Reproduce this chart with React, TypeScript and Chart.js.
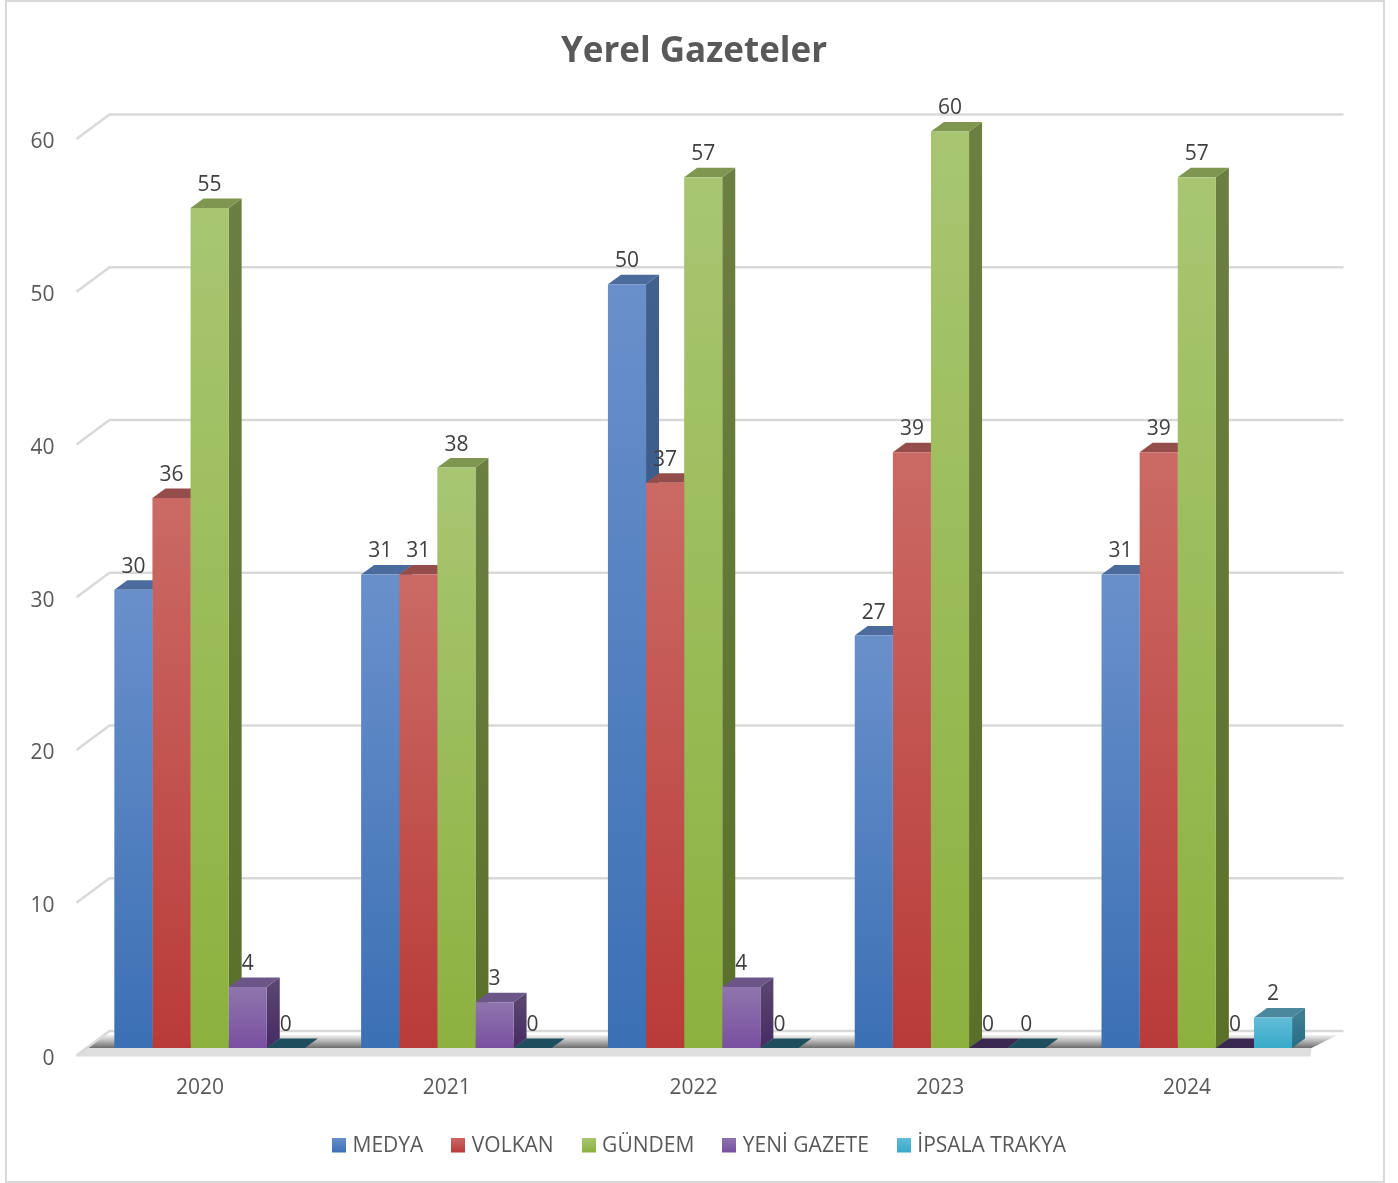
import React, { useEffect, useRef } from "react";
import { Chart, registerables } from "chart.js";

Chart.register(...registerables);

const categories = ["2020", "2021", "2022", "2023", "2024"];
const seriesNames = ["MEDYA", "VOLKAN", "GÜNDEM", "YENİ GAZETE", "İPSALA TRAKYA"];
const medya = [30, 31, 50, 27, 31];
const volkan = [36, 31, 37, 39, 39];
const gundem = [55, 38, 57, 60, 57];
const yeniGazete = [4, 3, 4, 0, 0];
const ipsalaTrakya = [0, 0, 0, 0, 2];
const seriesValues = [medya, volkan, gundem, yeniGazete, ipsalaTrakya];

const frontLight = ["#6A90CB", "#CB6A65", "#A8C672", "#8F75AE", "#62BDD8"];
const frontDark = ["#3B70B4", "#B93B38", "#8DB13F", "#7950A0", "#38A9C9"];
const sideLight = ["#41608C", "#8A4644", "#6C7F42", "#58446F", "#3C7D92"];
const sideDark = ["#2E5488", "#7F2A28", "#5A7029", "#452B63", "#246C83"];
const topFace = ["#4A6B9C", "#954D4B", "#7E9650", "#6C5587", "#4A889E"];
const zeroTop = ["#264466", "#5C2322", "#47591F", "#3A2850", "#1E4E5E"];

const FONT = "'Open Sans'";
const BAR_DX = 9.7;
const BAR_DY = -11;
const DEPTH_X = 13;
const DEPTH_Y = 9.5;
const WALL_DX = 33;
const WALL_FRONT = -3.5;
const WALL_BACK = -28;

function swatch(i: number): HTMLCanvasElement {
  const c = document.createElement("canvas");
  c.width = 14;
  c.height = 18;
  const g = c.getContext("2d")!;
  const gr = g.createLinearGradient(0, 0, 0, 15);
  gr.addColorStop(0, frontLight[i]);
  gr.addColorStop(1, frontDark[i]);
  g.fillStyle = gr;
  g.fillRect(0, 0, 14, 15);
  return c;
}

function poly(ctx: CanvasRenderingContext2D, pts: number[][], fill: any) {
  ctx.beginPath();
  pts.forEach((p, i) => (i ? ctx.lineTo(p[0], p[1]) : ctx.moveTo(p[0], p[1])));
  ctx.closePath();
  ctx.fillStyle = fill;
  ctx.fill();
}

const scene = {
  id: "scene3d",
  beforeDraw(chart: any) {
    const ctx = chart.ctx;
    ctx.save();
    ctx.fillStyle = "#ffffff";
    ctx.fillRect(0, 0, chart.width, chart.height);
    ctx.strokeStyle = "#d9d9d9";
    ctx.lineWidth = 2;
    ctx.strokeRect(6, 1, 1378, 1181);
    ctx.restore();
    if (chart.titleBlock) {
      chart.titleBlock.left = 0;
      chart.titleBlock.right = 1388;
    }
    if (chart.legend) {
      chart.legend.left = 2;
      chart.legend.right = 1400;
    }
  },
  beforeDatasetsDraw(chart: any) {
    const ctx = chart.ctx;
    const { left, right } = chart.chartArea;
    const yS = chart.scales.y;
    const y0 = yS.getPixelForValue(0);
    ctx.save();
    // floor
    const backY = y0 + WALL_BACK;
    const frontY = y0 + BAR_DY;
    const shadeTop = backY + 4;
    const shade = ctx.createLinearGradient(0, shadeTop, 0, frontY);
    shade.addColorStop(0, "#f4f4f4");
    shade.addColorStop(0.45, "#b8b8b8");
    shade.addColorStop(1, "#6c6c6c");
    const slope = WALL_DX / (WALL_FRONT - WALL_BACK);
    poly(
      ctx,
      [
        [left + WALL_DX - slope * 4, shadeTop],
        [right + WALL_DX - 6, shadeTop],
        [right + 1, frontY],
        [left + WALL_DX - slope * (frontY - backY), frontY],
      ],
      shade
    );
    poly(
      ctx,
      [
        [left + WALL_DX - slope * (frontY - backY), frontY],
        [right + 1, frontY],
        [right, y0 + WALL_FRONT + 1],
        [left - 1, y0 + WALL_FRONT + 1],
      ],
      "#dedede"
    );
    // walls
    ctx.strokeStyle = "#d9d9d9";
    ctx.lineWidth = 2.5;
    yS.ticks.forEach((t: any) => {
      const y = yS.getPixelForValue(t.value);
      ctx.beginPath();
      ctx.moveTo(left, y + WALL_FRONT);
      ctx.lineTo(left + WALL_DX, y + WALL_BACK);
      ctx.lineTo(right + WALL_DX, y + WALL_BACK);
      ctx.stroke();
    });
    // sides and tops of the bars
    ctx.translate(BAR_DX, BAR_DY);
    categories.forEach((_, c) => {
      seriesValues.forEach((vals, s) => {
        const b = chart.getDatasetMeta(s).data[c];
        const l = b.x - b.width / 2;
        const r = b.x + b.width / 2;
        const top = b.y;
        const base = b.base;
        if (vals[c] > 0) {
          const g = ctx.createLinearGradient(0, top, 0, base);
          g.addColorStop(0, sideLight[s]);
          g.addColorStop(1, sideDark[s]);
          poly(
            ctx,
            [
              [r, top],
              [r + DEPTH_X, top - DEPTH_Y],
              [r + DEPTH_X, base - DEPTH_Y],
              [r, base],
            ],
            g
          );
        }
        poly(
          ctx,
          [
            [l, top],
            [l + DEPTH_X, top - DEPTH_Y],
            [r + DEPTH_X, top - DEPTH_Y],
            [r, top],
          ],
          vals[c] > 0 ? topFace[s] : zeroTop[s]
        );
      });
    });
    ctx.restore();
    ctx.save();
    ctx.translate(BAR_DX, BAR_DY);
  },
  afterDatasetsDraw(chart: any) {
    const ctx = chart.ctx;
    ctx.restore();
    ctx.save();
    ctx.font = `21px ${FONT}`;
    ctx.fillStyle = "#404040";
    ctx.textAlign = "center";
    ctx.textBaseline = "middle";
    seriesValues.forEach((vals, s) => {
      const meta = chart.getDatasetMeta(s);
      vals.forEach((v, c) => {
        const b = meta.data[c];
        ctx.fillText(String(v), b.x + BAR_DX, b.y + BAR_DY - 23);
      });
    });
    ctx.restore();
  },
};

export default function App() {
  const ref = useRef<HTMLCanvasElement>(null);
  useEffect(() => {
    document.body.style.margin = "0";
    document.body.style.overflow = "hidden";
    const chart = new Chart(ref.current!, {
      type: "bar",
      data: {
        labels: categories,
        datasets: seriesNames.map((name, s) => ({
          label: name,
          data: seriesValues[s],
          clip: false,
          borderWidth: 0,
          pointStyle: swatch(s),
          backgroundColor: (c: any) => {
            const yS = c.chart.scales.y;
            const v = c.parsed ? c.parsed.y : undefined;
            const p0 = yS && v !== undefined ? yS.getPixelForValue(v) : NaN;
            const p1 = yS ? yS.getPixelForValue(0) : NaN;
            if (!Number.isFinite(p0) || !Number.isFinite(p1)) return frontDark[s];
            const g = c.chart.ctx.createLinearGradient(0, p0, 0, p1 + 0.01);
            g.addColorStop(0, frontLight[s]);
            g.addColorStop(1, frontDark[s]);
            return g;
          },
        })),
      },
      options: {
        responsive: false,
        animation: false,
        devicePixelRatio: 1,
        layout: { padding: { left: 0, right: 0, top: 0, bottom: 16 } },
        datasets: { bar: { barPercentage: 1, categoryPercentage: 0.772 } },
        plugins: {
          tooltip: { enabled: false },
          title: {
            display: true,
            text: "Yerel Gazeteler",
            color: "#595959",
            font: { family: FONT, size: 35, weight: "bold", lineHeight: 1.2 },
            padding: { top: 31, bottom: 69.5 },
          },
          legend: {
            position: "bottom",
            labels: {
              usePointStyle: true,
              pointStyleWidth: 6,
              padding: 32,
              color: "#595959",
              font: { family: FONT, size: 21 },
            },
          },
        },
        scales: {
          x: {
            afterFit: (s: any) => {
              s.height = 45;
            },
            grid: { display: false, drawTicks: false },
            border: { display: false },
            ticks: { color: "#595959", padding: 16.5, font: { family: FONT, size: 21 } },
          },
          y: {
            min: 0,
            max: 60,
            afterFit: (s: any) => {
              s.width = 76.5;
            },
            grid: { display: false, drawTicks: false },
            border: { display: false },
            ticks: { stepSize: 10, color: "#595959", padding: 22, font: { family: FONT, size: 21 } },
          },
          spare: {
            position: "right",
            afterFit: (s: any) => {
              s.width = 87.5;
            },
            grid: { display: false, drawTicks: false },
            border: { display: false },
            ticks: { display: false },
          },
        },
      },
      plugins: [scene],
    } as any);
    return () => chart.destroy();
  }, []);
  return (
    <div style={{ position: "fixed", left: 0, top: 0, width: 1398, height: 1183 }}>
      <canvas ref={ref} width={1398} height={1183} style={{ display: "block" }} />
    </div>
  );
}
